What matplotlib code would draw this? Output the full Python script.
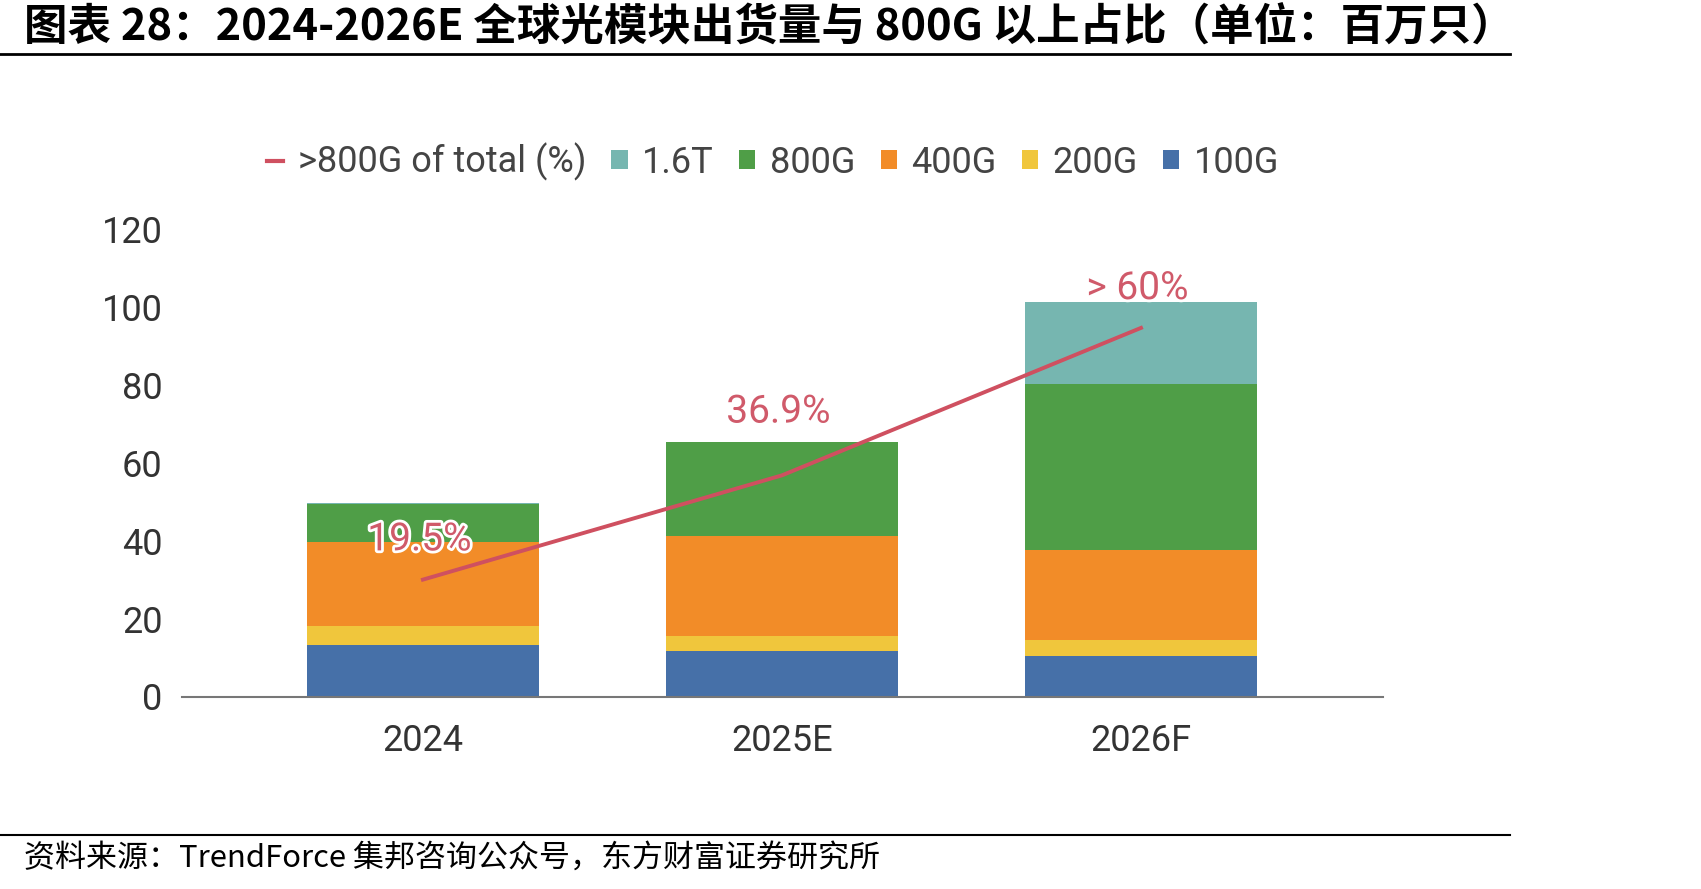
import matplotlib
matplotlib.use("Agg")
import matplotlib.pyplot as plt
import matplotlib.patheffects as pe
from matplotlib.lines import Line2D
from matplotlib.patches import Patch
import numpy as np

# ---- data ----
categories = ["2024", "2025E", "2026F"]
g100 = [13.1, 11.6, 10.3]
g200 = [5.1, 4.0, 4.3]
g400 = [21.4, 25.7, 23.1]
g800 = [9.7, 23.9, 42.4]
t16 = [0.3, 0.2, 21.2]
share_pct = [19.5, 36.9, 61.5]
share_labels = ["19.5%", "36.9%", "> 60%"]
label_y = [40.2, 73.0, 104.7]
yticks = [0, 20, 40, 60, 80, 100, 120]

series = [("100G", g100, "#4670a8"), ("200G", g200, "#f0c63c"),
          ("400G", g400, "#f28c28"), ("800G", g800, "#4f9e47"),
          ("1.6T", t16, "#76b6b0")]
line_color = "#cf5060"

W, H = 1701, 889
fig = plt.figure(figsize=(W / 100, H / 100), dpi=100)
fig.patch.set_facecolor("white")

ax = fig.add_axes([182 / W, 1 - 696.5 / H, (1383 - 182) / W, (696.5 - 229) / H])
x = np.arange(len(categories))

bottom = np.zeros(len(categories))
handles = {}
for name, vals, col in series:
    ax.bar(x, vals, width=0.644, bottom=bottom, color=col, zorder=2)
    bottom += np.array(vals)
    handles[name] = Patch(facecolor=col)

ax.set_xlim(-0.671, 2.674)
ax.set_ylim(0, 120)
ax.set_yticks(yticks)
ax.set_xticks(x)
ax.set_xticklabels(categories)
for s in ["top", "right", "left"]:
    ax.spines[s].set_visible(False)
ax.spines["bottom"].set_color("#777777")
ax.spines["bottom"].set_linewidth(1.5)
ax.tick_params(axis="both", length=0, labelsize=26, colors="#333333")
ax.tick_params(axis="y", pad=14)
ax.tick_params(axis="x", pad=19)
for lab in ax.get_xticklabels() + ax.get_yticklabels():
    lab.set_fontfamily("Roboto")

ax2 = ax.twinx()
ax2.set_ylim(0, 78)
ax2.axis("off")
ax2.plot(x, share_pct, color=line_color, lw=2.8, zorder=3)

for xi, yi, t in zip(x, label_y, share_labels):
    txt = ax.text(xi - 0.01, yi, t, ha="center", va="center", fontsize=28,
                  color="#d05a6a", family="Roboto", zorder=5)
    txt.set_path_effects([pe.withStroke(linewidth=4, foreground="white")])

leg_handles = [Line2D([0], [0], color=line_color, lw=3),
               handles["1.6T"], handles["800G"], handles["400G"],
               handles["200G"], handles["100G"]]
leg_labels = [">800G of total (%)", "1.6T", "800G", "400G", "200G", "100G"]
leg = fig.legend(leg_handles, leg_labels, loc="center", ncol=6,
                 bbox_to_anchor=(773 / W, 1 - 162 / H), frameon=False,
                 prop={"family": "Roboto", "size": 26},
                 handlelength=0.45, handleheight=0.45, handletextpad=0.4,
                 columnspacing=0.7, labelcolor="#444444")

# title, rules, footer
fig.text(24 / W, 1 - 28 / H,
         "图表 28：2024-2026E 全球光模块出货量与 800G 以上占比（单位：百万只）",
         ha="left", va="center", fontsize=31.3, fontweight="bold",
         family=["Noto Sans CJK SC", "DejaVu Sans"], color="black")
fig.add_artist(Line2D([0, 1510 / W], [1 - 54 / H] * 2, color="black", lw=2))
fig.add_artist(Line2D([0, 1510 / W], [1 - 835 / H] * 2, color="black", lw=1.5))
fig.text(24 / W, 1 - 858 / H,
         "资料来源：TrendForce 集邦咨询公众号，东方财富证券研究所",
         ha="left", va="center", fontsize=22.3,
         family=["Noto Sans CJK SC", "DejaVu Sans"], color="black")

fig.savefig("out.png", dpi=100, facecolor="white")
